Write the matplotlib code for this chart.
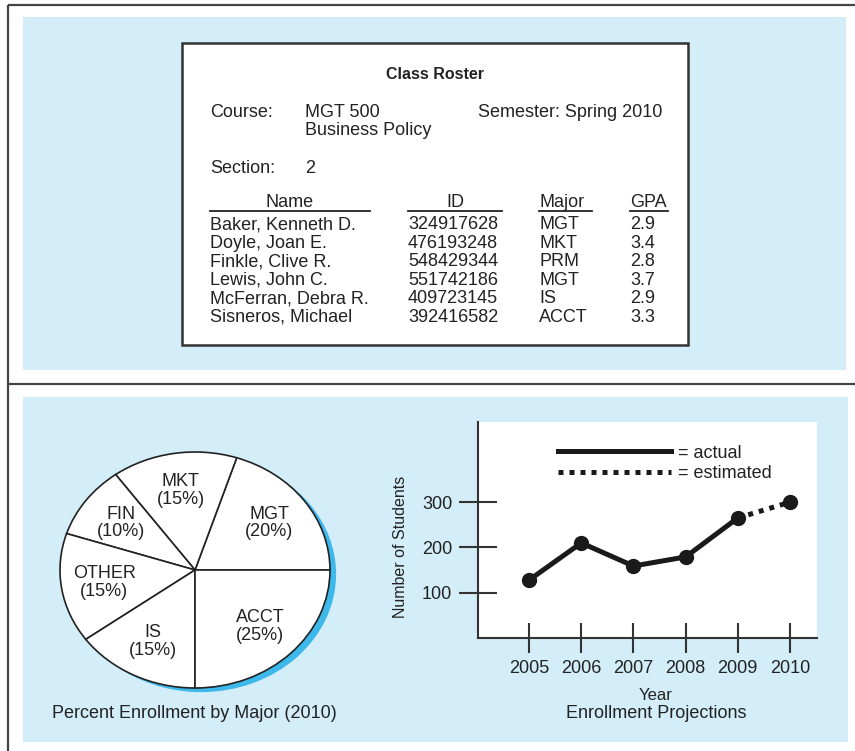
import matplotlib
matplotlib.use("Agg")
import matplotlib.pyplot as plt
from matplotlib.patches import Rectangle
from matplotlib.lines import Line2D

plt.rcParams['font.family'] = ['Liberation Sans', 'DejaVu Sans']

# roster data
course_code = "MGT 500"
course_name = "Business Policy"
semester = "Spring 2010"
section = "2"
names = ["Baker, Kenneth D.", "Doyle, Joan E.", "Finkle, Clive R.",
         "Lewis, John C.", "McFerran, Debra R.", "Sisneros, Michael"]
ids = ["324917628", "476193248", "548429344", "551742186", "409723145", "392416582"]
majors = ["MGT", "MKT", "PRM", "MGT", "IS", "ACCT"]
gpas = [2.9, 3.4, 2.8, 3.7, 2.9, 3.3]

# enrollment by major (percent)
pie_majors = ["MGT", "MKT", "FIN", "OTHER", "IS", "ACCT"]
pie_share = [20, 15, 10, 15, 15, 25]

# enrollment projections
years = [2005, 2006, 2007, 2008, 2009, 2010]
students = [128, 210, 159, 179, 265, 300]
n_actual = 5  # last point is an estimate

W, H = 855, 751
INK = '#222222'
PANEL = '#d3edf9'
SHADOW = '#3db8ea'

fig = plt.figure(figsize=(W / 100, H / 100), dpi=100)

# background layer in pixel units
bg = fig.add_axes([0, 0, 1, 1])
bg.set_xlim(0, W)
bg.set_ylim(H, 0)
bg.axis('off')

bg.add_patch(Rectangle((23, 17), 823, 353, fc=PANEL, ec='none'))
bg.add_patch(Rectangle((23, 397), 825, 345, fc=PANEL, ec='none'))
bg.plot([8, W], [5, 5], color='#444444', lw=1.6, solid_capstyle='butt')
bg.plot([8, 8], [5, H], color='#444444', lw=1.6, solid_capstyle='butt')
bg.plot([8, W], [384, 384], color='#444444', lw=1.6, solid_capstyle='butt')

# class roster card
bg.add_patch(Rectangle((182, 43), 506, 302, fc='white', ec='#333333', lw=1.8))
fs = 13
bg.text(435, 79, "Class Roster", ha='center', va='baseline', fontsize=11.5,
        fontweight='bold', color=INK)
bg.text(210, 117, "Course:", fontsize=fs, color=INK)
bg.text(305, 117, course_code, fontsize=fs, color=INK)
bg.text(305, 135, course_name, fontsize=fs, color=INK)
bg.text(478, 117, "Semester: " + semester, fontsize=fs, color=INK)
bg.text(210, 173, "Section:", fontsize=fs, color=INK)
bg.text(305, 173, section, fontsize=fs, color=INK)

hy = 207
bg.text(290, hy, "Name", ha='center', fontsize=fs, color=INK)
bg.text(455, hy, "ID", ha='center', fontsize=fs, color=INK)
bg.text(539, hy, "Major", fontsize=fs, color=INK)
bg.text(630, hy, "GPA", fontsize=fs, color=INK)
for x0, x1 in [(210, 370), (408, 502), (539, 592), (630, 668)]:
    bg.plot([x0, x1], [211, 211], color=INK, lw=1.3)

row0, step = 229, 18.6
for i, (nm, sid, mj, g) in enumerate(zip(names, ids, majors, gpas)):
    y = row0 + i * step
    bg.text(210, y, nm, fontsize=fs, color=INK)
    bg.text(408, y, sid, fontsize=fs, color=INK)
    bg.text(539, y, mj, fontsize=fs, color=INK)
    bg.text(630, y, f"{g:.1f}", fontsize=fs, color=INK)

# pie chart (drawn as an ellipse)
rx, ry = 135, 118
cx, cy = 195, 570
m = 1.12
pax = fig.add_axes([(cx - rx * m) / W, (H - cy - ry * m) / H, 2 * rx * m / W, 2 * ry * m / H])
pax.pie(pie_share, startangle=0, counterclock=True, center=(0.045, -0.035),
        colors=[SHADOW] * len(pie_share), wedgeprops=dict(linewidth=0))
labels = [f"{mj}\n({p}%)" for mj, p in zip(pie_majors, pie_share)]
wedges, texts = pax.pie(pie_share, labels=labels, startangle=0, counterclock=True,
                        colors=['white'] * len(pie_share), labeldistance=0.68,
                        wedgeprops=dict(edgecolor='#222222', linewidth=1.2),
                        textprops=dict(fontsize=13, color=INK, linespacing=1.05))
for t in texts:
    t.set_ha('center')
    t.set_va('center')
pax.set_aspect('auto')
pax.set_xlim(-m, m)
pax.set_ylim(-m, m)
bg.text(194, 714, "Percent Enrollment by Major (2010)", ha='center', va='center',
        fontsize=13, color=INK)

# enrollment projections line chart
lax = fig.add_axes([478 / W, (H - 638) / H, 339 / W, 216 / H])
lax.set_facecolor('white')
for s in ['top', 'right']:
    lax.spines[s].set_visible(False)
for s in ['left', 'bottom']:
    lax.spines[s].set_color('#333333')
    lax.spines[s].set_linewidth(1.5)

lax.plot(years[:n_actual], students[:n_actual], color='#1a1a1a', lw=3.6,
         solid_capstyle='round')
lax.plot(years[n_actual - 1:], students[n_actual - 1:], color='#1a1a1a', lw=3.6,
         linestyle=(0, (1, 1.2)), dash_capstyle='butt')
lax.plot(years, students, 'o', color='#1a1a1a', markersize=10)

lax.set_xlim(2004.02, 2010.52)
lax.set_ylim(0, 477)
lax.set_xticks(years)
lax.set_yticks([100, 200, 300])
lax.tick_params(axis='y', direction='inout', length=27, width=1.5, pad=5,
                labelsize=13, colors='#333333', labelcolor=INK)
lax.tick_params(axis='x', direction='inout', length=22, width=1.5, pad=5,
                labelsize=13, colors='#333333', labelcolor=INK)
lax.set_ylabel("Number of Students", fontsize=11.5, color=INK)
lax.yaxis.set_label_coords(-0.206, 0.42)

handles = [Line2D([], [], color='#1a1a1a', lw=3.6),
           Line2D([], [], color='#1a1a1a', lw=3.6, linestyle=(0, (1, 1.2)))]
lax.legend(handles, ["= actual", "= estimated"], loc='upper left',
           bbox_to_anchor=(0.236, 0.895), frameon=False, fontsize=13,
           handlelength=6.26, handletextpad=0.4, labelspacing=0.2,
           borderpad=0, borderaxespad=0, labelcolor=INK)

bg.text(656, 695, "Year", ha='center', va='center', fontsize=12, color=INK)
bg.text(656, 713, "Enrollment Projections", ha='center', va='center',
        fontsize=13, color=INK)

fig.savefig("out.png", dpi=100)
